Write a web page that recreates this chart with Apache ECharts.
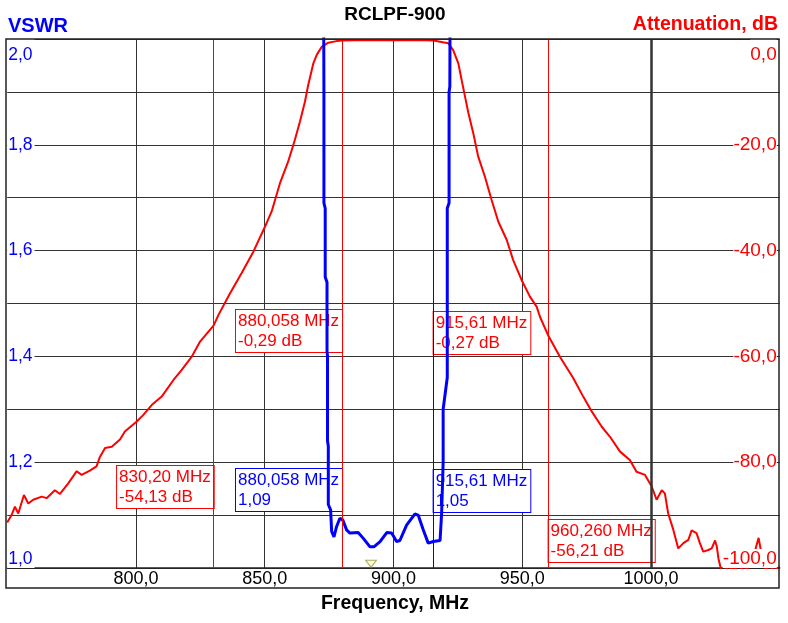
<!DOCTYPE html>
<html><head><meta charset="utf-8">
<script src="https://cdn.jsdelivr.net/npm/echarts@6/dist/echarts.min.js"></script>
<style>html,body{margin:0;padding:0;background:#fff}#c{width:788px;height:623px}</style>
</head><body><div id="c"></div>
<script>
// ---- data ----
const attFreq = [750,751.7,753.0,754.3,756.5,758.2,760.1,763.4,765.3,768.5,770.5,773.7,777.0,778.9,782.1,784.7,786.0,788.0,790.6,793.8,795.7,800.3,802.8,806.1,810.0,814.5,817.7,821.6,824.9,830.2,832.0,836.5,841.0,845.6,850.1,852.7,855.9,859.1,861.7,863.7,865.6,866.9,868.9,870.2,872.1,874.7,877.9,880.06,885,890,895,900,905,910,915.61,918.1,921.3,923.2,925.2,926.5,927.8,929.1,931.0,932.9,935.5,938.1,940.7,944.0,946.5,949.8,953.0,955.6,956.9,960.26,964.7,969.8,973.7,977.0,980.9,984.1,988.0,991.8,994.4,997.7,1000.3,1002.2,1004.2,1005.4,1006.7,1008.7,1010.6,1012.6,1014.5,1015.8,1017.7,1019.0,1020.3,1022.3,1023.6,1024.9,1025.6,1026.2,1027.5,1030,1032,1034,1036,1038,1040,1041.8,1043,1044.5,1046,1048,1050];
const attDb = [-91.4,-90.0,-88.4,-89.7,-86.2,-87.8,-87.1,-86.5,-86.8,-85.3,-86.0,-84.0,-81.7,-82.4,-81.6,-80.8,-79.0,-77.3,-77.1,-75.7,-74.2,-72.3,-71.1,-69.2,-67.6,-64.5,-62.6,-60.1,-57.2,-54.13,-52.2,-48.1,-44.3,-40.2,-35.5,-32.6,-27.3,-23.2,-19.1,-15.6,-11.9,-8.7,-4.6,-3.0,-1.5,-0.7,-0.4,-0.29,-0.22,-0.25,-0.2,-0.22,-0.25,-0.2,-0.27,-0.5,-0.8,-2.1,-4.6,-7.8,-10.9,-14.0,-17.8,-22.2,-26.0,-30.4,-34.5,-38.0,-41.8,-45.6,-48.7,-50.6,-52.5,-56.21,-60.1,-64.1,-67.6,-70.4,-73.3,-75.2,-78.0,-79.6,-81.8,-82.4,-84.6,-87.1,-85.3,-85.9,-89.7,-92.8,-96.3,-95.3,-94.7,-92.9,-93.4,-95.3,-96.9,-96.6,-96.3,-94.8,-96.0,-98.2,-100.8,-99.8,-100.3,-99.7,-100.4,-99.9,-97.5,-94.3,-97.5,-100.3,-99.7,-100.4,-99.8];

const vswrFreq = [872.6,872.9,873.0,873.0,873.5,873.5,874.2,874.2,874.4,874.4,874.7,874.7,875.6,876.0,876.9,877.9,879.2,880.3,881.8,883.1,886.3,888.3,890.9,892.4,894.8,897.4,899.3,901.2,902.5,905.1,908.3,909.6,911.6,913.5,915.5,918.1,918.7,919.1,919.3,919.3,920.9,920.9,921.6,921.6,921.9,922.2];
const vswrVal = [2.4,2.05,1.9,1.69,1.68,1.55,1.54,1.41,1.40,1.24,1.23,1.12,1.11,1.069,1.059,1.078,1.094,1.091,1.072,1.066,1.067,1.056,1.040,1.040,1.050,1.067,1.066,1.050,1.052,1.081,1.102,1.100,1.072,1.047,1.050,1.052,1.103,1.166,1.20,1.30,1.36,1.68,1.69,1.90,1.91,2.4];

const redMarkerFreq = [830.20, 880.058, 915.61, 960.260];
const redMarkerText = [['830,20 MHz','-54,13 dB'],['880,058 MHz','-0,29 dB'],['915,61 MHz','-0,27 dB'],['960,260 MHz','-56,21 dB']];
const blueMarkerFreq = [880.058, 915.61];
const blueMarkerText = [['880,058 MHz','1,09'],['915,61 MHz','1,05']];
const cursorFreq = [1000];
const triangleFreq = [891.3];
const triangleVswr = [1.008];

// ---- layout (positions / styles) ----
const redBoxLayout = [{side:'left', top:466},{side:'left', top:310},{side:'right', top:312},{side:'right', top:520}];
const blueBoxLayout = [{side:'left', top:469},{side:'right', top:470}];

const FONT = '"Liberation Sans", Arial, sans-serif';
const BOX_FONT = '17px ' + FONT;
const RED = '#ff0000', BLUE = '#0000ff';
const fmt = v => v.toFixed(1).replace('.', ',');

const chart = echarts.init(document.getElementById('c'), null, {renderer:'canvas'});

const option = {
  animation: false,
  backgroundColor: '#fff',
  grid: {left: 7.2, top: 39, width: 772.5, height: 529, containLabel: false, outerBoundsMode: 'none'},
  xAxis: {
    type: 'value', min: 750, max: 1050, interval: 50,
    axisLine: {show: true, onZero: false, lineStyle: {color: '#222', width: 1.5}},
    axisTick: {show: false},
    splitLine: {show: true, showMinLine: false, showMaxLine: false, lineStyle: {color: '#333', width: 1}},
    axisLabel: {show: true, showMinLabel: false, showMaxLabel: false, formatter: fmt,
      color: '#000', fontFamily: FONT, fontSize: 18, margin: 2}
  },
  yAxis: [
    { // VSWR labels (left)
      type: 'value', min: 1, max: 2, interval: 0.2, position: 'left', z: 5,
      axisLine: {show: false}, axisTick: {show: false}, splitLine: {show: false},
      axisLabel: {inside: true, margin: 0, color: BLUE, fontFamily: FONT, fontSize: 17.5,
        backgroundColor: '#fff', padding: [0, 2, 0, 1],
        verticalAlignMaxLabel: 'top', verticalAlignMinLabel: 'bottom',
        formatter: v => Math.abs(v - 2) < 1e-6 ? '{t|' + fmt(v) + '}' : fmt(v),
        rich: {t: {padding: [7, 0, 0, 0], color: BLUE, fontFamily: FONT, fontSize: 17.5}}}
    },
    { // Attenuation labels (right)
      type: 'value', min: -100, max: 0, interval: 20, position: 'right', z: 10,
      axisLine: {show: false}, axisTick: {show: false}, splitLine: {show: false},
      axisLabel: {inside: true, margin: 3, color: RED, fontFamily: FONT, fontSize: 19,
        backgroundColor: '#fff', padding: [0, 0, 0, 0],
        verticalAlignMaxLabel: 'top', verticalAlignMinLabel: 'bottom',
        formatter: v => Math.abs(v) < 1e-6 ? '{t|' + fmt(0) + '}' : fmt(v),
        rich: {t: {padding: [6, 0, 0, 0], color: RED, fontFamily: FONT, fontSize: 19}}}
    },
    { // horizontal grid lines only
      type: 'value', min: 0, max: 10, interval: 1, position: 'left', z: 0,
      axisLine: {show: false}, axisTick: {show: false}, axisLabel: {show: false},
      splitLine: {show: true, lineStyle: {color: '#333', width: 1}}
    }
  ],
  series: [
    {
      name: 'Attenuation', type: 'line', yAxisIndex: 1, z: 2,
      data: attFreq.map((f, i) => [f, attDb[i]]),
      showSymbol: false, symbol: 'none', clip: true,
      lineStyle: {color: RED, width: 2}, itemStyle: {color: RED},
      markLine: {
        silent: true, symbol: ['none', 'none'], label: {show: false}, animation: false,
        lineStyle: {color: RED, width: 1, type: 'solid'},
        data: redMarkerFreq.filter((f, i) => i !== 2).map(f => ({xAxis: f}))
          .concat(cursorFreq.map(f => ({xAxis: f, lineStyle: {color: '#333', width: 2.5, type: 'solid'}})))
      }
    },
    {
      name: 'VSWR', type: 'line', yAxisIndex: 0, z: 3,
      data: vswrFreq.map((f, i) => [f, vswrVal[i]]),
      showSymbol: false, symbol: 'none', clip: true,
      lineStyle: {color: BLUE, width: 3}, itemStyle: {color: BLUE},
      markLine: {
        silent: true, symbol: ['none', 'none'], label: {show: false}, animation: false,
        lineStyle: {color: BLUE, width: 1, type: 'solid'},
        data: blueMarkerFreq.filter((f, i) => i === 1).map(f => ({xAxis: f}))
      }
    },
    {
      name: 'marker', type: 'scatter', yAxisIndex: 0, z: 4,
      data: triangleFreq.map((f, i) => [f, triangleVswr[i]]),
      symbol: 'triangle', symbolRotate: 180, symbolSize: [11, 7],
      itemStyle: {color: '#fffbe0', borderColor: '#999933', borderWidth: 1}
    }
  ]
};
chart.setOption(option);

const measureCtx = document.createElement('canvas').getContext('2d');
measureCtx.font = BOX_FONT;
const PAD = [1, 3, 1, 2];

function boxes(freqs, texts, layout, color) {
  return freqs.map((f, i) => {
    const px = chart.convertToPixel({xAxisIndex: 0}, f);
    const L = layout[i];
    const w = Math.max.apply(null, texts[i].map(t => measureCtx.measureText(t).width)) + PAD[1] + PAD[3];
    return {
      type: 'text', z: 1, x: L.side === 'left' ? px - w : px, y: L.top,
      style: {
        text: texts[i].join('\n'), fill: color, font: BOX_FONT, lineHeight: 20,
        backgroundColor: '#fff', borderColor: color, borderWidth: 1,
        padding: PAD, align: 'left', verticalAlign: 'top'
      }
    };
  });
}

const graphics = []
  .concat(boxes(redMarkerFreq, redMarkerText, redBoxLayout, RED))
  .concat(boxes(blueMarkerFreq, blueMarkerText, blueBoxLayout, BLUE))
  .concat([
    {type: 'rect', z: 20, shape: {x: 6, y: 39, width: 773, height: 549},
      style: {fill: null, stroke: '#222', lineWidth: 1.5}},
    {type: 'text', z: 20, x: 395, y: 15, style: {text: 'RCLPF-900', fill: '#000', font: 'bold 19px ' + FONT, align: 'center', verticalAlign: 'middle'}},
    {type: 'text', z: 20, x: 8, y: 26, style: {text: 'VSWR', fill: BLUE, font: 'bold 20px ' + FONT, align: 'left', verticalAlign: 'middle'}},
    {type: 'text', z: 20, x: 778, y: 25, style: {text: 'Attenuation, dB', fill: RED, font: 'bold 19.5px ' + FONT, align: 'right', verticalAlign: 'middle'}},
    {type: 'text', z: 20, x: 395, y: 604, style: {text: 'Frequency, MHz', fill: '#000', font: 'bold 19.5px ' + FONT, align: 'center', verticalAlign: 'middle'}}
  ]);
chart.setOption({graphic: graphics});
</script>
</body></html>
